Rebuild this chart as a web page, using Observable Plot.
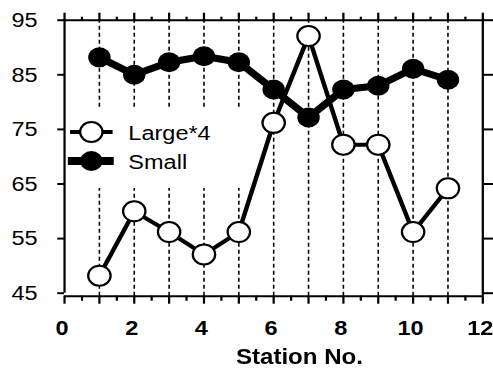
<!DOCTYPE html>
<html>
<head>
<meta charset="utf-8">
<script src="https://cdn.jsdelivr.net/npm/d3@7"></script>
<script src="https://cdn.jsdelivr.net/npm/@observablehq/plot@0.6"></script>
<style>
  html, body { margin: 0; padding: 0; background: white; overflow: hidden; }
  #wrap { position: relative; width: 440px; height: 371px; transform: scaleX(1.1205); transform-origin: 0 0; font-family: "Liberation Sans", Arial, sans-serif; }
  #legend { position: absolute; left: 59.5px; top: 107px; width: 161px; height: 81px; background: white; }
</style>
</head>
<body>
<div id="wrap">
  <div id="chart"></div>
  <div id="legend">
    <svg width="161" height="81" style="display:block;font-family:'Liberation Sans', Arial, sans-serif">
      <line x1="2.5" y1="25" x2="40.5" y2="25" stroke="black" stroke-width="4"/>
      <circle cx="21.5" cy="25" r="10" fill="white" stroke="black" stroke-width="2"/>
      <text x="54.5" y="33" font-size="21" fill="black">Large*4</text>
      <line x1="0.5" y1="54" x2="41.5" y2="54" stroke="black" stroke-width="8"/>
      <circle cx="21.5" cy="54" r="10" fill="black"/>
      <text x="54.5" y="62" font-size="21" fill="black">Small</text>
    </svg>
  </div>
</div>
<script>
const stations = [1, 2, 3, 4, 5, 6, 7, 8, 9, 10, 11];
const small = [88.2, 85.0, 87.3, 88.4, 87.3, 82.3, 77.2, 82.3, 83.0, 86.1, 84.1];
const large = [48.2, 60.0, 56.2, 52.1, 56.2, 76.2, 92.1, 72.2, 72.2, 56.2, 64.2];
const xMajorTicks = [0, 1, 2, 3, 4, 5, 6, 7, 8, 9, 10, 11, 12];
const xLabelTicks = [0, 2, 4, 6, 8, 10, 12];
const xMinorTicks = [0.5, 1.5, 2.5, 3.5, 4.5, 5.5, 6.5, 7.5, 8.5, 9.5, 10.5, 11.5];
const yTicks = [45, 55, 65, 75, 85, 95];
const xLabel = "Station No.";

const rows = stations.map((s, i) => ({station: s, small: small[i], large: large[i]}));
const yLow = 44.45, yHigh = 95, xLow = 0, xHigh = 12;

const chart = Plot.plot({
  width: 440,
  height: 371,
  marginLeft: 57.1,
  marginRight: 9.6,
  marginTop: 19.7,
  marginBottom: 75.3,
  x: {domain: [xLow, xHigh]},
  y: {domain: [yLow, yHigh]},
  style: {fontFamily: "'Liberation Sans', Arial, sans-serif", fontSize: "21px", color: "black", background: "white", overflow: "visible"},
  marks: [
    Plot.ruleX(stations, {y1: yLow, y2: yHigh, stroke: "black", strokeWidth: 1.4, strokeDasharray: "4,3"}),
    Plot.axisY(yTicks, {anchor: "left", tickSize: 6, tickPadding: 18, strokeWidth: 2, fontSize: 21, label: null}),
    Plot.axisY(yTicks, {anchor: "right", tickSize: 9, strokeWidth: 2, tickFormat: () => "", label: null}),
    Plot.axisX(xLabelTicks, {anchor: "bottom", tickSize: 0, tickPadding: 24, fontSize: 21, fontWeight: "bold", dx: -2.3, label: null}),
    Plot.axisX(xMajorTicks, {anchor: "bottom", tickSize: 8, strokeWidth: 2, tickFormat: () => "", label: null}),
    Plot.axisX(xMinorTicks, {anchor: "bottom", tickSize: 5, strokeWidth: 2, tickFormat: () => "", label: null}),
    Plot.axisX(xMajorTicks, {anchor: "top", tickSize: 8, strokeWidth: 2, tickFormat: () => "", label: null}),
    Plot.axisX(xMinorTicks, {anchor: "top", tickSize: 4, strokeWidth: 2, tickFormat: () => "", label: null}),
    Plot.ruleX([xLow], {y1: yTicks[0], y2: yHigh, stroke: "black", strokeWidth: 2}),
    Plot.ruleX([xHigh], {y1: yLow, y2: yHigh, stroke: "black", strokeWidth: 2}),
    Plot.ruleY([yLow, yHigh], {x1: xLow, x2: xHigh, stroke: "black", strokeWidth: 2}),
    Plot.line(rows, {x: "station", y: "small", stroke: "black", strokeWidth: 7, strokeLinejoin: "round"}),
    Plot.dot(rows, {x: "station", y: "small", r: 10, fill: "black", stroke: "none"}),
    Plot.line(rows, {x: "station", y: "large", stroke: "black", strokeWidth: 4}),
    Plot.dot(rows, {x: "station", y: "large", r: 10, fill: "white", stroke: "black", strokeWidth: 2}),
    Plot.text([xLabel], {frameAnchor: "bottom", dx: 23, dy: 53, lineAnchor: "top", fontSize: 21.5, fontWeight: "bold", fill: "black"})
  ]
});
document.getElementById("chart").appendChild(chart);
</script>
</body>
</html>
